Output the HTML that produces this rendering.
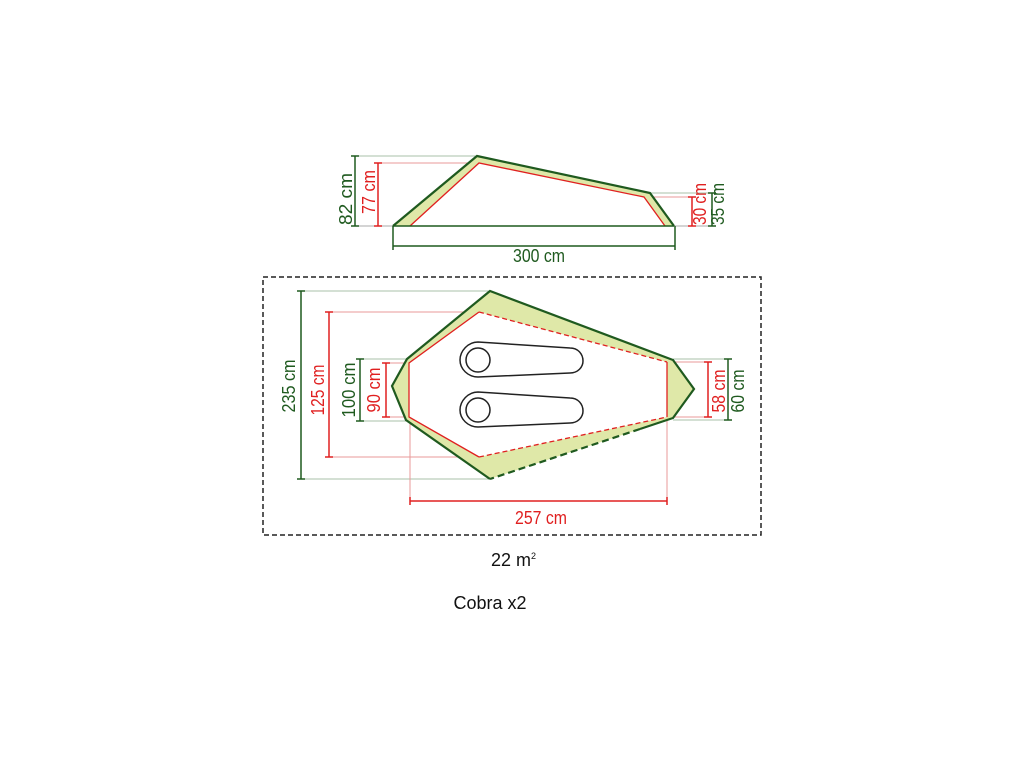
<!DOCTYPE html>
<html><head><meta charset="utf-8"><style>
html,body{margin:0;padding:0;background:#fff;}
svg{display:block;}
text{font-family:"Liberation Sans",sans-serif;font-size:18px;}
</style></head><body>
<svg width="1024" height="768" viewBox="0 0 1024 768" xmlns="http://www.w3.org/2000/svg">
<rect width="1024" height="768" fill="#fff"/>
<g>
<line x1="355" y1="156" x2="477" y2="156" stroke="#a9c2a9" stroke-width="1"/>
<line x1="378" y1="163" x2="479" y2="163" stroke="#e89a9a" stroke-width="1"/>
<line x1="650" y1="193" x2="712" y2="193" stroke="#a9c2a9" stroke-width="1"/>
<line x1="644" y1="197" x2="692" y2="197" stroke="#e89a9a" stroke-width="1"/>
<line x1="355" y1="226" x2="712" y2="226" stroke="#a9a9a9" stroke-width="1"/>
<polygon points="393,226 477,156 650,193 674,226 665,226 644,197 479,163 410,226" fill="#dfe8a8"/>
<polyline points="393,226 477,156 650,193 674,226" fill="none" stroke="#1f5a1f" stroke-width="2.2"/>
<polyline points="410,226 479,163 644,197 665,226" fill="none" stroke="#e02020" stroke-width="1.3"/>
<line x1="393" y1="226" x2="674" y2="226" stroke="#1f5a1f" stroke-width="1.5"/>
<g stroke="#1f5a1f" stroke-width="1.5">
<line x1="355" y1="156" x2="355" y2="226"/><line x1="351" y1="156" x2="359" y2="156"/><line x1="351" y1="226" x2="359" y2="226"/>
<line x1="712" y1="193" x2="712" y2="226"/><line x1="708" y1="193" x2="716" y2="193"/><line x1="708" y1="226" x2="716" y2="226"/>
<line x1="393" y1="246" x2="675" y2="246"/><line x1="393" y1="226" x2="393" y2="250"/><line x1="675" y1="226" x2="675" y2="250"/>
</g>
<g stroke="#e02020" stroke-width="1.5">
<line x1="378" y1="163" x2="378" y2="226"/><line x1="374" y1="163" x2="382" y2="163"/><line x1="374" y1="226" x2="382" y2="226"/>
<line x1="692" y1="197" x2="692" y2="226"/><line x1="688" y1="197" x2="696" y2="197"/><line x1="688" y1="226" x2="696" y2="226"/>
</g>
<text x="352" y="199" fill="#1f5a1f" text-anchor="middle" textLength="52" lengthAdjust="spacingAndGlyphs" transform="rotate(-90 352 199)">82 cm</text>
<text x="375" y="192" fill="#e02020" text-anchor="middle" textLength="44" lengthAdjust="spacingAndGlyphs" transform="rotate(-90 375 192)">77 cm</text>
<text x="706" y="204" fill="#e02020" text-anchor="middle" textLength="42" lengthAdjust="spacingAndGlyphs" transform="rotate(-90 706 204)">30 cm</text>
<text x="724" y="204" fill="#1f5a1f" text-anchor="middle" textLength="42" lengthAdjust="spacingAndGlyphs" transform="rotate(-90 724 204)">35 cm</text>
<text x="539" y="262" fill="#1f5a1f" text-anchor="middle" textLength="52" lengthAdjust="spacingAndGlyphs">300 cm</text>
</g>
<rect x="263" y="277" width="498" height="258" fill="none" stroke="#222" stroke-width="1.5" stroke-dasharray="5,3"/>
<g stroke-width="1">
<line x1="301" y1="291" x2="490" y2="291" stroke="#a9c2a9"/>
<line x1="301" y1="479" x2="490" y2="479" stroke="#a9c2a9"/>
<line x1="329" y1="312" x2="479" y2="312" stroke="#e89a9a"/>
<line x1="329" y1="457" x2="479" y2="457" stroke="#e89a9a"/>
<line x1="360" y1="359" x2="407" y2="359" stroke="#a9c2a9"/>
<line x1="360" y1="421" x2="406" y2="421" stroke="#a9c2a9"/>
<line x1="386" y1="363" x2="409" y2="363" stroke="#e89a9a"/>
<line x1="386" y1="417" x2="409" y2="417" stroke="#e89a9a"/>
<line x1="673" y1="359" x2="728" y2="359" stroke="#a9c2a9"/>
<line x1="673" y1="420" x2="728" y2="420" stroke="#a9c2a9"/>
<line x1="667" y1="362" x2="708" y2="362" stroke="#e89a9a"/>
<line x1="667" y1="417" x2="708" y2="417" stroke="#e89a9a"/>
<line x1="410" y1="417" x2="410" y2="501" stroke="#e89a9a"/>
<line x1="667" y1="417" x2="667" y2="501" stroke="#e89a9a"/>
</g>
<path fill-rule="evenodd" fill="#dfe8a8" d="M490,291 L673,360 L694,389 L673,418 L490,479 L406,420 L392,386 L407,359 Z M479,312 L667,362 L667,417 L479,457 L409,417 L409,363 Z"/>
<polyline points="490,479 406,420 392,386 407,359 490,291 673,360 694,389 673,418 640,429" fill="none" stroke="#1f5a1f" stroke-width="2.2"/>
<line x1="640" y1="429" x2="490" y2="479" stroke="#1f5a1f" stroke-width="2.2" stroke-dasharray="7,4"/>
<polyline points="479,457 409,417 409,363 479,312" fill="none" stroke="#e02020" stroke-width="1.3"/>
<polyline points="667,362 667,417" fill="none" stroke="#e02020" stroke-width="1.3"/>
<line x1="479" y1="312" x2="667" y2="362" stroke="#e02020" stroke-width="1.3" stroke-dasharray="5,3"/>
<line x1="479" y1="457" x2="667" y2="417" stroke="#e02020" stroke-width="1.3" stroke-dasharray="5,3"/>
<g fill="#fff" stroke="#222" stroke-width="1.5">
<path d="M478,342 C468,342 460,351 460,360 C460,369 468,377 478,377 L570,373 C578,373 583,367 583,361 C583,354 578,348 570,348 Z"/>
<circle cx="478" cy="360" r="12"/>
<path d="M478,392 C468,392 460,401 460,410 C460,419 468,427 478,427 L570,423 C578,423 583,417 583,411 C583,404 578,398 570,398 Z"/>
<circle cx="478" cy="410" r="12"/>
</g>
<g stroke="#1f5a1f" stroke-width="1.5">
<line x1="301" y1="291" x2="301" y2="479"/><line x1="297" y1="291" x2="305" y2="291"/><line x1="297" y1="479" x2="305" y2="479"/>
<line x1="360" y1="359" x2="360" y2="421"/><line x1="356" y1="359" x2="364" y2="359"/><line x1="356" y1="421" x2="364" y2="421"/>
<line x1="728" y1="359" x2="728" y2="420"/><line x1="724" y1="359" x2="732" y2="359"/><line x1="724" y1="420" x2="732" y2="420"/>
</g>
<g stroke="#e02020" stroke-width="1.5">
<line x1="329" y1="312" x2="329" y2="457"/><line x1="325" y1="312" x2="333" y2="312"/><line x1="325" y1="457" x2="333" y2="457"/>
<line x1="386" y1="363" x2="386" y2="417"/><line x1="382" y1="363" x2="390" y2="363"/><line x1="382" y1="417" x2="390" y2="417"/>
<line x1="708" y1="362" x2="708" y2="417"/><line x1="704" y1="362" x2="712" y2="362"/><line x1="704" y1="417" x2="712" y2="417"/>
<line x1="410" y1="501" x2="667" y2="501"/><line x1="410" y1="497" x2="410" y2="505"/><line x1="667" y1="497" x2="667" y2="505"/>
</g>
<text x="295" y="386" fill="#1f5a1f" text-anchor="middle" textLength="53" lengthAdjust="spacingAndGlyphs" transform="rotate(-90 295 386)">235 cm</text>
<text x="324" y="390" fill="#e02020" text-anchor="middle" textLength="51" lengthAdjust="spacingAndGlyphs" transform="rotate(-90 324 390)">125 cm</text>
<text x="355" y="390" fill="#1f5a1f" text-anchor="middle" textLength="55" lengthAdjust="spacingAndGlyphs" transform="rotate(-90 355 390)">100 cm</text>
<text x="380" y="390" fill="#e02020" text-anchor="middle" textLength="45" lengthAdjust="spacingAndGlyphs" transform="rotate(-90 380 390)">90 cm</text>
<text x="725" y="391" fill="#e02020" text-anchor="middle" textLength="43" lengthAdjust="spacingAndGlyphs" transform="rotate(-90 725 391)">58 cm</text>
<text x="744" y="391" fill="#1f5a1f" text-anchor="middle" textLength="43" lengthAdjust="spacingAndGlyphs" transform="rotate(-90 744 391)">60 cm</text>
<text x="541" y="524" fill="#e02020" text-anchor="middle" textLength="52" lengthAdjust="spacingAndGlyphs">257 cm</text>
<text x="491" y="566" fill="#111" font-size="16">22 m<tspan font-size="9" dy="-7">2</tspan></text>
<text x="490" y="609" fill="#111" font-size="16" text-anchor="middle">Cobra x2</text>
</svg>
</body></html>
